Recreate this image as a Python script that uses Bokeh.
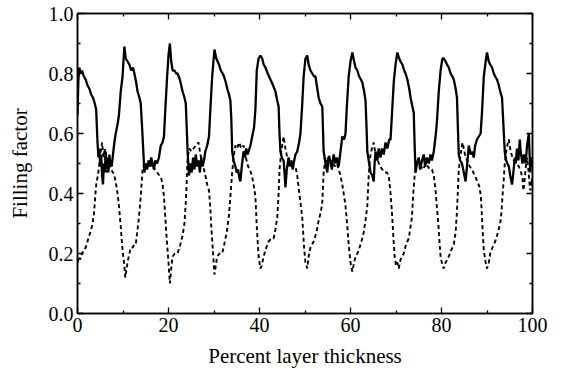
from bokeh.plotting import figure
from bokeh.models import Range1d, LinearAxis, FixedTicker
from bokeh.embed import file_html
from bokeh.resources import INLINE

x_solid = [0.0, 0.2, 0.4, 0.7, 1.0, 1.4, 1.8, 2.2, 2.6, 3.0, 3.4, 3.8, 4.1, 4.4, 4.6, 4.8, 5.0, 5.2, 5.4, 5.6,
           5.8, 6.0, 6.2, 6.4, 6.6, 6.8, 7.0, 7.2, 7.5, 7.8, 8.1, 8.4, 8.8, 9.1, 9.5, 9.9, 10.3, 10.6, 11.0, 11.4,
           11.8, 12.2, 12.5, 12.9, 13.2, 13.6, 13.9, 14.2, 14.4, 14.7, 15.0, 15.3, 15.6, 15.9, 16.2, 16.5, 16.8, 17.1, 17.5, 17.9,
           18.3, 18.7, 19.0, 19.3, 19.7, 20.0, 20.3, 20.6, 20.9, 21.3, 21.7, 22.0, 22.5, 23.1, 23.5, 23.8, 24.0, 24.2, 24.5, 24.8,
           25.1, 25.4, 25.7, 26.0, 26.3, 26.6, 26.9, 27.2, 27.5, 27.8, 28.1, 28.5, 28.9, 29.2, 29.6, 30.1, 30.5, 30.8, 31.1, 31.5,
           31.9, 32.2, 32.6, 32.9, 33.3, 33.6, 33.8, 34.0, 34.3, 34.7, 35.0, 35.3, 35.6, 35.8, 36.1, 36.5, 36.8, 37.1, 37.4, 37.6,
           38.0, 38.4, 38.8, 39.1, 39.4, 39.8, 40.2, 40.6, 40.9, 41.3, 41.8, 42.4, 43.0, 43.5, 43.9, 44.2, 44.4, 44.6, 44.9, 45.3,
           45.5, 45.7, 46.0, 46.4, 46.7, 47.0, 47.3, 47.5, 47.9, 48.3, 48.7, 49.0, 49.4, 49.7, 50.1, 50.5, 50.8, 51.2, 51.6, 52.0,
           52.3, 52.7, 53.0, 53.4, 53.8, 54.1, 54.5, 54.9, 55.2, 55.6, 55.9, 56.3, 56.7, 57.0, 57.4, 57.8, 58.2, 58.6, 58.9, 59.2,
           59.6, 60.0, 60.4, 60.8, 61.1, 61.5, 61.9, 62.3, 62.6, 63.0, 63.3, 63.5, 63.7, 64.0, 64.4, 64.8, 65.1, 65.3, 65.5, 65.9,
           66.2, 66.6, 66.9, 67.3, 67.7, 68.1, 68.5, 68.8, 69.1, 69.5, 69.9, 70.3, 70.7, 71.0, 71.4, 71.8, 72.1, 72.5, 72.9, 73.2,
           73.6, 73.9, 74.1, 74.3, 74.6, 75.0, 75.3, 75.7, 76.1, 76.4, 76.8, 77.2, 77.6, 77.9, 78.3, 78.7, 79.0, 79.4, 79.8, 80.2,
           80.5, 80.9, 81.2, 81.6, 82.0, 82.4, 82.7, 83.1, 83.4, 83.6, 83.8, 84.1, 84.5, 84.9, 85.3, 85.6, 86.0, 86.4, 86.7, 87.1,
           87.4, 87.8, 88.2, 88.6, 88.9, 89.3, 89.7, 90.0, 90.4, 90.7, 91.1, 91.5, 91.8, 92.2, 92.6, 92.9, 93.3, 93.6, 93.9, 94.2,
           94.5, 94.8, 95.1, 95.5, 95.8, 96.1, 96.3, 96.6, 96.9, 97.2, 97.4, 97.8, 98.1, 98.5, 98.8, 99.2, 99.5, 99.8, 100.0]
y_solid = [0.66, 0.78, 0.82, 0.80, 0.81, 0.79, 0.78, 0.76, 0.75, 0.73, 0.72, 0.70, 0.68, 0.57, 0.52, 0.55, 0.49, 0.53, 0.46, 0.43,
           0.50, 0.47, 0.54, 0.48, 0.52, 0.47, 0.53, 0.50, 0.49, 0.53, 0.57, 0.60, 0.63, 0.66, 0.74, 0.79, 0.89, 0.85, 0.84, 0.83,
           0.81, 0.82, 0.80, 0.77, 0.74, 0.72, 0.70, 0.62, 0.56, 0.47, 0.50, 0.48, 0.51, 0.49, 0.52, 0.50, 0.48, 0.51, 0.50, 0.52,
           0.56, 0.57, 0.59, 0.68, 0.79, 0.86, 0.90, 0.84, 0.81, 0.81, 0.80, 0.80, 0.78, 0.74, 0.72, 0.70, 0.62, 0.54, 0.46, 0.50,
           0.47, 0.52, 0.48, 0.53, 0.49, 0.51, 0.47, 0.52, 0.49, 0.51, 0.54, 0.56, 0.59, 0.68, 0.79, 0.88, 0.85, 0.84, 0.83, 0.81,
           0.80, 0.79, 0.77, 0.75, 0.73, 0.71, 0.65, 0.54, 0.51, 0.49, 0.47, 0.48, 0.45, 0.44, 0.49, 0.54, 0.52, 0.55, 0.53, 0.54,
           0.56, 0.59, 0.62, 0.68, 0.81, 0.85, 0.86, 0.85, 0.83, 0.82, 0.80, 0.78, 0.76, 0.74, 0.71, 0.69, 0.60, 0.54, 0.52, 0.51,
           0.47, 0.42, 0.48, 0.52, 0.49, 0.51, 0.48, 0.50, 0.53, 0.54, 0.57, 0.60, 0.70, 0.79, 0.85, 0.86, 0.83, 0.81, 0.80, 0.79,
           0.79, 0.75, 0.72, 0.70, 0.69, 0.54, 0.50, 0.47, 0.52, 0.51, 0.48, 0.53, 0.50, 0.52, 0.49, 0.54, 0.59, 0.58, 0.60, 0.69,
           0.79, 0.84, 0.87, 0.84, 0.82, 0.81, 0.79, 0.78, 0.77, 0.74, 0.71, 0.63, 0.54, 0.51, 0.47, 0.46, 0.44, 0.50, 0.54, 0.51,
           0.55, 0.52, 0.55, 0.53, 0.57, 0.55, 0.58, 0.58, 0.66, 0.77, 0.83, 0.87, 0.85, 0.84, 0.83, 0.81, 0.80, 0.78, 0.75, 0.72,
           0.69, 0.67, 0.56, 0.47, 0.50, 0.52, 0.48, 0.51, 0.53, 0.49, 0.52, 0.50, 0.53, 0.51, 0.54, 0.59, 0.64, 0.74, 0.81, 0.85,
           0.85, 0.84, 0.83, 0.82, 0.80, 0.79, 0.78, 0.75, 0.72, 0.62, 0.53, 0.51, 0.50, 0.47, 0.44, 0.49, 0.56, 0.53, 0.54, 0.52,
           0.56, 0.58, 0.59, 0.60, 0.67, 0.79, 0.84, 0.87, 0.84, 0.83, 0.82, 0.80, 0.79, 0.78, 0.76, 0.74, 0.72, 0.63, 0.54, 0.51,
           0.50, 0.49, 0.46, 0.43, 0.47, 0.52, 0.50, 0.55, 0.51, 0.58, 0.54, 0.50, 0.53, 0.50, 0.56, 0.60, 0.47, 0.52, 0.50]

x_dashed = [0.0, 0.3, 0.6, 1.0, 1.4, 1.8, 2.2, 2.6, 3.0, 3.3, 3.6, 4.0, 4.2, 4.5, 4.8, 5.1, 5.4, 5.7, 6.0, 6.2,
            6.5, 6.8, 7.0, 7.4, 7.8, 8.1, 8.5, 8.8, 9.1, 9.5, 9.9, 10.3, 10.5, 10.8, 11.0, 11.4, 11.7, 12.1, 12.5, 12.8,
            13.2, 13.5, 13.9, 14.3, 14.7, 15.0, 15.5, 16.0, 16.5, 17.0, 17.5, 18.0, 18.4, 18.7, 19.0, 19.3, 19.6, 20.0, 20.3, 20.6,
            20.9, 21.4, 22.0, 22.6, 23.1, 23.5, 23.8, 24.0, 24.2, 24.6, 25.0, 25.5, 26.0, 26.6, 27.0, 27.5, 28.1, 28.5, 28.9, 29.2,
            29.4, 29.8, 30.1, 30.4, 30.7, 31.2, 31.8, 32.4, 32.9, 33.3, 33.6, 34.0, 34.3, 34.7, 35.1, 35.5, 36.0, 36.5, 37.0, 37.5,
            37.9, 38.3, 38.6, 39.1, 39.4, 39.8, 40.2, 40.5, 40.9, 41.5, 42.0, 42.6, 43.1, 43.5, 43.9, 44.2, 44.4, 44.8, 45.3, 45.7,
            46.1, 46.5, 46.8, 47.3, 47.9, 48.3, 48.6, 49.0, 49.4, 49.8, 50.1, 50.5, 50.8, 51.2, 51.9, 52.5, 53.0, 53.5, 53.8, 54.1,
            54.5, 54.9, 55.3, 55.7, 56.1, 56.5, 57.0, 57.4, 57.8, 58.2, 58.6, 58.9, 59.3, 59.6, 60.0, 60.4, 60.8, 61.1, 61.5, 61.8,
            62.4, 62.9, 63.3, 63.7, 64.0, 64.3, 64.7, 65.1, 65.5, 66.0, 66.5, 67.0, 67.6, 68.0, 68.4, 68.8, 69.1, 69.4, 69.7, 70.0,
            70.3, 70.6, 71.0, 71.4, 71.7, 72.2, 72.8, 73.2, 73.5, 73.8, 74.1, 74.5, 75.0, 75.5, 76.0, 76.5, 77.0, 77.5, 77.9, 78.3,
            78.7, 79.0, 79.3, 79.6, 79.8, 80.2, 80.5, 80.9, 81.3, 81.6, 82.1, 82.7, 83.1, 83.4, 83.6, 83.8, 84.2, 84.6, 84.9, 85.3,
            85.7, 86.2, 86.7, 87.3, 87.9, 88.4, 88.7, 88.9, 89.1, 89.3, 89.7, 90.0, 90.4, 90.7, 91.2, 91.8, 92.4, 92.9, 93.2, 93.4,
            93.7, 93.9, 94.3, 94.8, 95.2, 95.6, 95.9, 96.4, 97.0, 97.5, 97.8, 98.0, 98.3, 98.6, 98.8, 99.1, 99.3, 99.5, 99.8, 100.0]
y_dashed = [0.17, 0.19, 0.18, 0.20, 0.21, 0.22, 0.24, 0.26, 0.28, 0.30, 0.33, 0.41, 0.44, 0.46, 0.50, 0.54, 0.57, 0.52, 0.55, 0.50,
            0.47, 0.49, 0.49, 0.48, 0.47, 0.46, 0.43, 0.40, 0.36, 0.29, 0.21, 0.16, 0.12, 0.15, 0.17, 0.20, 0.22, 0.22, 0.23, 0.23,
            0.28, 0.32, 0.39, 0.48, 0.50, 0.49, 0.50, 0.49, 0.50, 0.48, 0.47, 0.46, 0.45, 0.43, 0.39, 0.32, 0.25, 0.17, 0.10, 0.15,
            0.19, 0.20, 0.20, 0.23, 0.26, 0.30, 0.37, 0.44, 0.52, 0.55, 0.54, 0.55, 0.56, 0.57, 0.53, 0.50, 0.46, 0.43, 0.41, 0.35,
            0.29, 0.20, 0.13, 0.16, 0.19, 0.20, 0.20, 0.24, 0.28, 0.33, 0.39, 0.47, 0.52, 0.56, 0.55, 0.57, 0.55, 0.56, 0.52, 0.49,
            0.48, 0.46, 0.44, 0.39, 0.29, 0.19, 0.15, 0.16, 0.19, 0.22, 0.24, 0.25, 0.25, 0.28, 0.32, 0.40, 0.48, 0.54, 0.59, 0.55,
            0.52, 0.50, 0.50, 0.49, 0.49, 0.46, 0.42, 0.37, 0.32, 0.22, 0.17, 0.15, 0.19, 0.22, 0.24, 0.27, 0.31, 0.34, 0.37, 0.47,
            0.52, 0.50, 0.53, 0.49, 0.51, 0.49, 0.50, 0.48, 0.46, 0.43, 0.39, 0.36, 0.29, 0.23, 0.17, 0.14, 0.17, 0.19, 0.20, 0.21,
            0.24, 0.27, 0.31, 0.36, 0.46, 0.52, 0.55, 0.57, 0.53, 0.51, 0.49, 0.48, 0.47, 0.47, 0.46, 0.40, 0.34, 0.26, 0.19, 0.16,
            0.17, 0.15, 0.18, 0.19, 0.20, 0.23, 0.25, 0.29, 0.32, 0.40, 0.46, 0.50, 0.49, 0.49, 0.48, 0.50, 0.49, 0.48, 0.48, 0.46,
            0.41, 0.35, 0.30, 0.23, 0.19, 0.16, 0.15, 0.17, 0.18, 0.19, 0.21, 0.23, 0.27, 0.34, 0.41, 0.48, 0.53, 0.57, 0.55, 0.52,
            0.51, 0.49, 0.48, 0.46, 0.44, 0.42, 0.38, 0.32, 0.26, 0.21, 0.17, 0.15, 0.17, 0.20, 0.22, 0.24, 0.27, 0.30, 0.34, 0.39,
            0.45, 0.50, 0.55, 0.58, 0.54, 0.52, 0.51, 0.50, 0.49, 0.47, 0.45, 0.41, 0.45, 0.50, 0.52, 0.48, 0.44, 0.41, 0.45, 0.43]

x_ticks = [0, 20, 40, 60, 80, 100]
x_minor = [10, 30, 50, 70, 90]
y_ticks = [0.0, 0.2, 0.4, 0.6, 0.8, 1.0]
y_minor = [0.1, 0.3, 0.5, 0.7, 0.9]
y_tick_labels = ["0.0", "0.2", "0.4", "0.6", "0.8", "1.0"]
x_label = "Percent layer thickness"
y_label = "Filling factor"

FONT = "Liberation Serif"

p = figure(frame_width=455, frame_height=300, width=562, height=369,
           output_backend="svg", toolbar_location=None,
           x_range=Range1d(0, 100), y_range=Range1d(0, 1.0),
           min_border_left=77, min_border_right=30, min_border_top=13, min_border_bottom=56)
p.background_fill_color = "white"
p.border_fill_color = "white"
p.outline_line_color = "black"
p.outline_line_width = 1.5
p.grid.visible = False

p.line(x_solid, y_solid, line_color="black", line_width=2.3)
p.line(x_dashed, y_dashed, line_color="black", line_width=1.9, line_dash="4 3")

def style(ax, labels=True):
    ax.axis_line_color = "black"
    ax.axis_line_width = 1.5
    ax.major_tick_in = 6
    ax.major_tick_out = 0
    ax.minor_tick_in = 3
    ax.minor_tick_out = 0
    ax.major_tick_line_color = "black"
    ax.minor_tick_line_color = "black"
    ax.major_tick_line_width = 1.3
    ax.minor_tick_line_width = 1.3
    ax.major_label_text_font = FONT
    ax.major_label_text_font_size = "20px"
    ax.major_label_text_color = "black"
    ax.axis_label_text_font = FONT
    ax.axis_label_text_font_size = "21px"
    ax.axis_label_text_font_style = "normal"
    ax.axis_label_text_color = "black"
    if not labels:
        ax.major_label_text_alpha = 0
        ax.major_label_text_font_size = "1px"
        ax.major_label_standoff = 0

p.xaxis.ticker = FixedTicker(ticks=x_ticks, minor_ticks=x_minor)
p.yaxis.ticker = FixedTicker(ticks=y_ticks, minor_ticks=y_minor)
p.yaxis.major_label_overrides = {t: s for t, s in zip(y_ticks, y_tick_labels)}
p.xaxis.axis_label = x_label
p.yaxis.axis_label = y_label
style(p.xaxis[0])
style(p.yaxis[0])
p.xaxis.major_label_standoff = 4
p.yaxis.major_label_standoff = 4
p.xaxis.axis_label_standoff = 9
p.yaxis.axis_label_standoff = 14

top = LinearAxis(ticker=FixedTicker(ticks=x_ticks, minor_ticks=x_minor))
style(top, labels=False)
p.add_layout(top, "above")
right = LinearAxis(ticker=FixedTicker(ticks=y_ticks, minor_ticks=y_minor))
style(right, labels=False)
p.add_layout(right, "right")

open("out.html", "w").write(file_html(p, INLINE))
